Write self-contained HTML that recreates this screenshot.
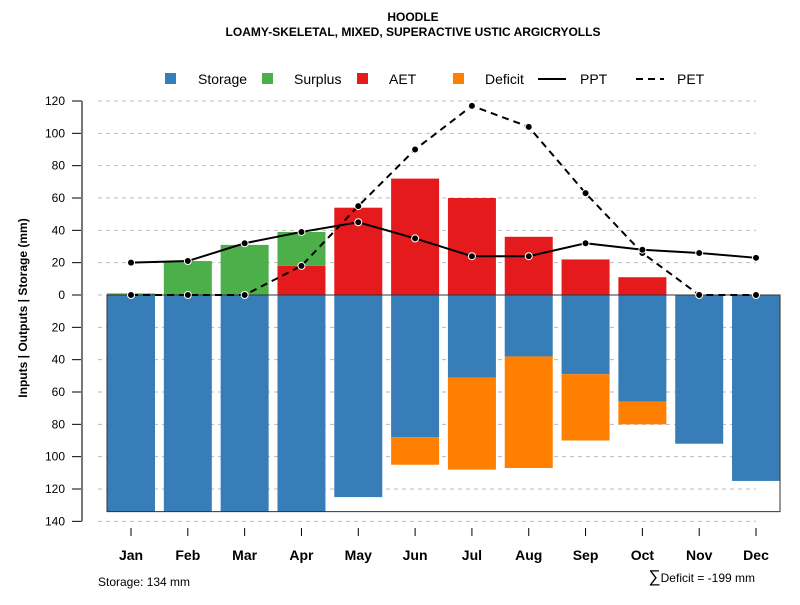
<!DOCTYPE html>
<html><head><meta charset="utf-8"><style>
body{margin:0;background:#fff}
svg{font-family:"Liberation Sans",sans-serif}
</style></head><body>
<svg id="c" width="800" height="600" xmlns="http://www.w3.org/2000/svg">
<text x="413" y="21" text-anchor="middle" font-size="12" font-weight="bold">HOODLE</text>
<text x="413" y="36" text-anchor="middle" font-size="12" font-weight="bold">LOAMY-SKELETAL, MIXED, SUPERACTIVE USTIC ARGICRYOLLS</text>
<g>
<rect x="165" y="73" width="11" height="11" fill="#377eb8"/>
<text x="198" y="84" font-size="14">Storage</text>
<rect x="262" y="73" width="11" height="11" fill="#4daf4a"/>
<text x="294" y="84" font-size="14">Surplus</text>
<rect x="357" y="73" width="11" height="11" fill="#e41a1c"/>
<text x="389" y="84" font-size="14">AET</text>
<rect x="453" y="73" width="11" height="11" fill="#ff7f00"/>
<text x="485" y="84" font-size="14">Deficit</text>
<line x1="538" y1="79" x2="566" y2="79" stroke="#000" stroke-width="2"/>
<text x="580" y="84" font-size="14">PPT</text>
<line x1="636" y1="79" x2="664" y2="79" stroke="#000" stroke-width="2" stroke-dasharray="7,5"/>
<text x="677" y="84" font-size="14">PET</text>
</g>
<text transform="translate(27,308) rotate(-90)" text-anchor="middle" font-size="12" font-weight="bold">Inputs | Outputs | Storage    (mm)</text>
<text x="98" y="586" font-size="12">Storage: 134 mm</text>
<text x="755" y="582" text-anchor="end" font-size="12"><tspan font-size="17">∑</tspan>Deficit = -199 mm</text>
<g id="grid"></g><g id="bars"></g><g id="lines"></g><g id="axes"></g>
</svg>
<script>
const months=["Jan","Feb","Mar","Apr","May","Jun","Jul","Aug","Sep","Oct","Nov","Dec"];
const storage=[134,134,134,134,125,88,51,38,49,66,92,115];
const deficit=[0,0,0,0,0,17,57,69,41,14,0,0];
const aet=[0,0,0,18,54,72,60,36,22,11,0,0];
const surplus=[1,21,31,21,0,0,0,0,0,0,0,0];
const ppt=[20,21,32,39,45,35,24,24,32,28,26,23];
const pet=[0,0,0,18,55,90,117,104,63,26,0,0];
const yTicks=[120,100,80,60,40,20,0,-20,-40,-60,-80,-100,-120,-140];
const NS="http://www.w3.org/2000/svg";
function y(v){return 295-v*1.6167;}
function x(i){return 131+i*56.82;}
function mk(tag,at,parent){const e=document.createElementNS(NS,tag);for(const k in at)e.setAttribute(k,at[k]);document.getElementById(parent).appendChild(e);return e;}
yTicks.forEach(t=>{
 const g=mk("line",{x1:98,x2:756,y1:y(t),y2:y(t),stroke:"#bbb","stroke-dasharray":"4,4"},"grid");
 
 
 const tk=mk("line",{x1:72,x2:82,y1:y(t),y2:y(t),stroke:"#000"},"axes");
 
 
 const tx=mk("text",{x:65,y:y(t)+4,"text-anchor":"end","font-size":12},"axes");
 tx.textContent=Math.abs(t);
 
 
});
const ax=mk("line",{x1:82,x2:82,y1:y(120),y2:y(-140),stroke:"#777","stroke-width":2},"axes");


const bw=48;
months.forEach((m,i)=>{
 const cx=x(i);
 function bar(v0,v1,col,name){
  if(v0===v1)return;
  const r=mk("rect",{x:cx-bw/2,y:Math.min(y(v0),y(v1)),width:bw,height:Math.abs(y(v0)-y(v1)),fill:col},"bars");
  
  
 }
 bar(0,-storage[i],"#377eb8","storage-bar-"+m.toLowerCase());
 bar(-storage[i],-storage[i]-deficit[i],"#ff7f00","deficit-bar-"+m.toLowerCase());
 bar(0,aet[i],"#e41a1c","aet-bar-"+m.toLowerCase());
 bar(aet[i],aet[i]+surplus[i],"#4daf4a","surplus-bar-"+m.toLowerCase());
 const tk=mk("line",{x1:cx,x2:cx,y1:528,y2:536,stroke:"#000"},"axes");
 
 
 const tx=mk("text",{x:cx,y:560,"text-anchor":"middle","font-size":14,"font-weight":"bold"},"axes");
 tx.textContent=m;
 
 
});
const box=mk("rect",{x:x(0)-bw/2,y:y(0),width:x(11)-x(0)+bw,height:y(-134)-y(0),fill:"none",stroke:"#333"},"bars");


function series(vals,dash,name){
 const p=mk("polyline",{points:vals.map((v,i)=>x(i)+","+y(v)).join(" "),fill:"none",stroke:"#000","stroke-width":2,"stroke-dasharray":dash},"lines");
 
 
 vals.forEach((v,i)=>{
  const c=mk("circle",{cx:x(i),cy:y(v),r:3.5,fill:"#000",stroke:"#fff","stroke-width":1},"lines");
  
  
 });
}
series(pet,"7,5","pet");
series(ppt,"none","ppt");
</script>
</body></html>
